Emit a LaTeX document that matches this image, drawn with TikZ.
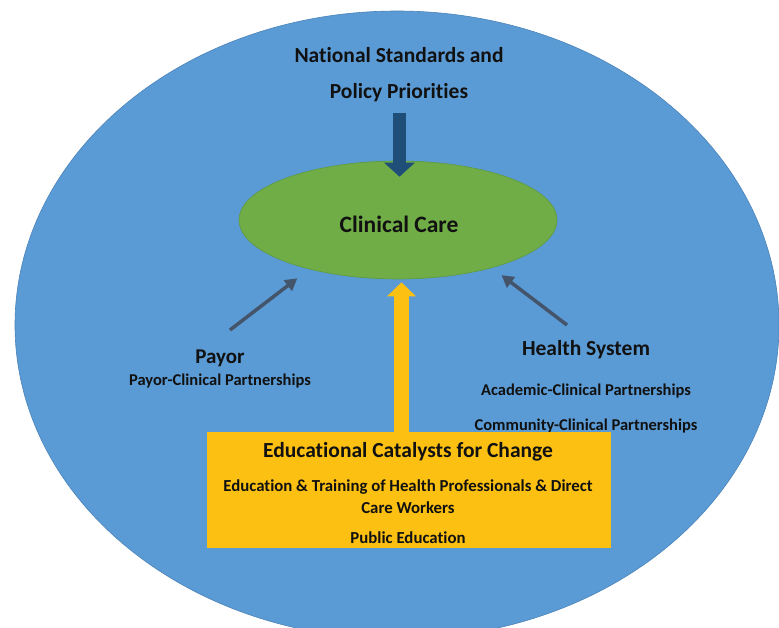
\documentclass[tikz,border=0pt]{standalone}
\usepackage{fontspec}
\setmainfont{Carlito}[Ligatures={NoCommon,NoContextual},RawFeature={-liga;-calt}]
\usetikzlibrary{arrows.meta,calc,shapes.geometric}
\definecolor{outerblue}{HTML}{5B9BD5}
\definecolor{outerline}{HTML}{4A83B8}
\definecolor{ccgreen}{HTML}{70AD47}
\definecolor{ccline}{HTML}{5E9A40}
\definecolor{navyarrow}{HTML}{1F4E79}
\definecolor{slatearrow}{HTML}{44546A}
\definecolor{eduyellow}{HTML}{FCC012}
\definecolor{txt}{HTML}{111111}
\tikzset{
  lbl/.style={inner sep=0pt, text=txt, font=\bfseries},
  bigtxt/.style={lbl, font=\fontsize{21.5}{25}\selectfont\bfseries},
  smalltxt/.style={lbl, font=\fontsize{16.5}{19}\selectfont\bfseries},
  edutxt/.style={lbl, font=\fontsize{16.8}{19}\selectfont\bfseries},
  navyconn/.style={draw=navyarrow, line width=13pt, -{Triangle[width=30pt,length=14pt]}},
  slateconn/.style={draw=slatearrow, line width=3.5pt, -{Triangle[width=13pt,length=12pt]}},
  yellowconn/.style={draw=eduyellow, line width=15pt, -{Triangle[width=28pt,length=14pt]}},
}
\begin{document}
\begin{tikzpicture}[x=1pt,y=-1pt]
\useasboundingbox (0,0) rectangle (779,628);
\clip (0,0) rectangle (779,628);
\fill[white] (0,0) rectangle (779,628);
% outer ellipse
\node[ellipse, fill=outerblue, draw=outerline, line width=0.6pt, minimum width=764pt, minimum height=628pt, inner sep=0pt] (outer) at (397,325) {};
% clinical care
\node[ellipse, fill=ccgreen, draw=ccline, line width=0.6pt, minimum width=318pt, minimum height=118pt, inner sep=0pt] (cc) at (398,220) {};
\node[lbl, font=\fontsize{23.5}{27}\selectfont\bfseries] (cctxt) at (399,224) {Clinical Care};
% top text
\node[bigtxt] (nat) at (399,55) {National Standards and};
\node[bigtxt] (pol) at (399,93) {Policy Priorities};
% payor
\node[lbl, font=\fontsize{21}{25}\selectfont\bfseries] (payor) at (220,358) {Payor};
\node[smalltxt] (payorsub) at (220,381) {Payor-Clinical Partnerships};
% health system
\node[bigtxt] (hs) at (586,350) {Health System};
\node[smalltxt] (acad) at (586,391) {Academic-Clinical Partnerships};
\node[smalltxt] (comm) at (586,426) {Community-Clinical Partnerships};
% educational box
\node[rectangle, fill=eduyellow, minimum width=404pt, minimum height=116pt, inner sep=0pt] (edu) at (409,490) {};
\node[bigtxt] (edutitle) at (408,452) {Educational Catalysts for Change};
\node[edutxt] (edu1) at (408,487) {Education \& Training of Health Professionals \& Direct};
\node[edutxt] (edu2) at (408,508) {Care Workers};
\node[edutxt] (edu3) at (408,538) {Public Education};
% connectors
\coordinate (navytail) at ($(pol)+(0.5,20)$);
\draw[navyconn] (navytail) -- ($(cc.north)+(1.5,16)$);
\draw[yellowconn] ($(edu.north)+(-7.5,0)$) -- ($(cc.south)+(3.5,3)$);
\coordinate (payortail) at ($(payor)+(10,-28)$);
\draw[slateconn, shorten >=15pt] (payortail) -- (cc.209);
\coordinate (hstail) at ($(hs)+(-19,-25)$);
\draw[slateconn, shorten >=12pt] (hstail) -- (cc.333);
\end{tikzpicture}
\end{document}
